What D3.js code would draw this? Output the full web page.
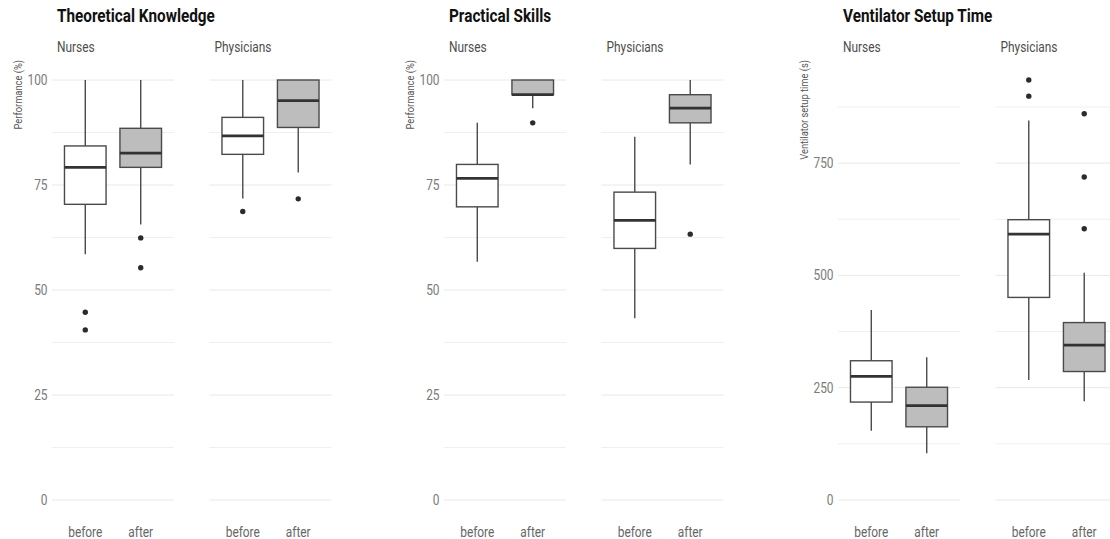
<!DOCTYPE html>
<html>
<head>
<meta charset="utf-8">
<script src="https://cdn.jsdelivr.net/npm/d3@7"></script>
<style>
  body { margin: 0; background: #fff; }
  svg { display: block; }
  text { font-family: Roboto, "Open Sans", sans-serif; }
</style>
</head>
<body>
<div id="chart"></div>
<script>
// chart content
const panelTitles = ['Theoretical Knowledge', 'Practical Skills', 'Ventilator Setup Time'];
const yTitles = ['Performance (%)', 'Performance (%)', 'Ventilator setup time (s)'];
const groups = ['Nurses', 'Physicians'];
const phases = ['before', 'after'];

// box stats per facet/phase: [lower whisker, q1, median, q3, upper whisker]
// order: Nurses before, Nurses after, Physicians before, Physicians after
const knowledgeStats = [[58.5, 70.4, 79.2, 84.3, 100], [65.6, 79.2, 82.6, 88.5, 100], [71.8, 82.3, 86.7, 91.1, 100], [78.0, 88.7, 95.1, 100, 100]];
const knowledgeOutliers = [[44.7, 40.5], [62.4, 55.3], [68.7], [71.7]];

const skillsStats = [[56.7, 69.8, 76.6, 79.9, 89.8], [93.3, 96.5, 96.5, 100, 100], [43.3, 59.9, 66.6, 73.3, 86.5], [79.9, 89.8, 93.3, 96.5, 100]];
const skillsOutliers = [[], [89.8], [], [63.3]];

const setupStats = [[154, 218, 275, 310, 423], [104, 163, 210, 251, 318], [267, 451, 592, 624, 845], [220, 286, 345, 395, 506]];
const setupOutliers = [[], [], [935, 899], [860, 719, 604]];

const pctTicks = [0, 25, 50, 75, 100];
const timeTicks = [0, 250, 500, 750];

const panelStats = [knowledgeStats, skillsStats, setupStats];
const panelOutliers = [knowledgeOutliers, skillsOutliers, setupOutliers];
const panelTicks = [pctTicks, pctTicks, timeTicks];
const panelMax = [100, 100, 935];

const width = 1110, height = 539;
const panelLeft = [52, 444, 838],
    facetWidth = 122,
    facetStep = 157.5,
    plotTop = 80,
    plotBottom = 500,
    squeeze = 0.85;

const svg = d3.select('#chart').append('svg')
    .attr('width', width)
    .attr('height', height);

// draws condensed-looking text (no condensed face installed)
function label(g, str, x, y, opts) {
    let t = g.append('text')
        .attr('transform', 'translate(' + x + ',' + y + ')' + (opts.rotate ? ' rotate(-90)' : '') + ' scale(' + squeeze + ',1)')
        .attr('font-size', opts.size)
        .attr('fill', opts.color)
        .attr('text-anchor', opts.anchor || 'start')
        .text(str);
    if (opts.bold) t.attr('font-weight', 700);
    return t;
}

panelTitles.forEach(function (title, p) {
    let left = panelLeft[p];
    let y = d3.scaleLinear().domain([0, panelMax[p]]).range([plotBottom, plotTop]);
    let ticks = panelTicks[p];
    let minor = ticks.slice(0, -1).map(function (t, i) { return (t + ticks[i + 1]) / 2; });
    if (p == 2) minor.push(875);

    let panel = svg.append('g').attr('class', 'panel');

    label(panel, title, left + 5, 22, { size: 18, color: '#111', bold: true });
    label(panel, yTitles[p], left - 30, 60, { size: 11, color: '#555', anchor: 'end', rotate: true });

    // y axis labels only (no line, no ticks)
    let yAxis = d3.axisLeft(y).tickValues(ticks).tickSize(0).tickPadding(4.5);
    let ax = panel.append('g').attr('transform', 'translate(' + left + ',0)').call(yAxis);
    ax.select('.domain').remove();
    ax.selectAll('text')
        .attr('font-family', 'Roboto')
        .attr('font-size', 14)
        .attr('fill', '#7a7a7a')
        .attr('transform', 'scale(' + squeeze + ',1)')
        .attr('x', -4.5 / squeeze);

    groups.forEach(function (grp, f) {
        let fx = left + f * facetStep;
        let x = d3.scalePoint().domain(phases).range([0, facetWidth]).padding(0.6);
        let boxW = x.step() * 0.75;
        let facet = panel.append('g').attr('transform', 'translate(' + fx + ',0)');

        label(facet, grp, 5, 52, { size: 14, color: '#4d4d4d' });

        // grid
        facet.selectAll('line.major').data(ticks).enter().append('line')
            .attr('x1', 0).attr('x2', facetWidth)
            .attr('y1', function (d) { return y(d); }).attr('y2', function (d) { return y(d); })
            .attr('stroke', '#e8e8e8').attr('stroke-width', 1);
        facet.selectAll('line.minor').data(minor).enter().append('line')
            .attr('x1', 0).attr('x2', facetWidth)
            .attr('y1', function (d) { return y(d); }).attr('y2', function (d) { return y(d); })
            .attr('stroke', '#efefef').attr('stroke-width', 1);

        // x labels
        phases.forEach(function (ph) {
            label(facet, ph, x(ph), 537, { size: 14, color: '#666', anchor: 'middle' });
        });

        phases.forEach(function (ph, k) {
            let s = panelStats[p][f * 2 + k];
            let outs = panelOutliers[p][f * 2 + k];
            let cx = x(ph);
            let b = facet.append('g');

            b.append('line').attr('x1', cx).attr('x2', cx)
                .attr('y1', y(s[3])).attr('y2', y(s[4]))
                .attr('stroke', '#4a4a4a').attr('stroke-width', 1.4);
            b.append('line').attr('x1', cx).attr('x2', cx)
                .attr('y1', y(s[0])).attr('y2', y(s[1]))
                .attr('stroke', '#4a4a4a').attr('stroke-width', 1.4);
            b.append('rect')
                .attr('x', cx - boxW / 2).attr('width', boxW)
                .attr('y', y(s[3])).attr('height', y(s[1]) - y(s[3]))
                .attr('fill', ph == 'after' ? '#bdbdbd' : '#fff')
                .attr('stroke', '#4a4a4a').attr('stroke-width', 1.4);
            b.append('line')
                .attr('x1', cx - boxW / 2).attr('x2', cx + boxW / 2)
                .attr('y1', y(s[2])).attr('y2', y(s[2]))
                .attr('stroke', '#333').attr('stroke-width', 2.8);

            b.selectAll('circle').data(outs).enter().append('circle')
                .attr('cx', cx)
                .attr('cy', function (d) { return y(d); })
                .attr('r', 2.7)
                .attr('fill', '#2b2b2b');
        });
    });
});
</script>
</body>
</html>
